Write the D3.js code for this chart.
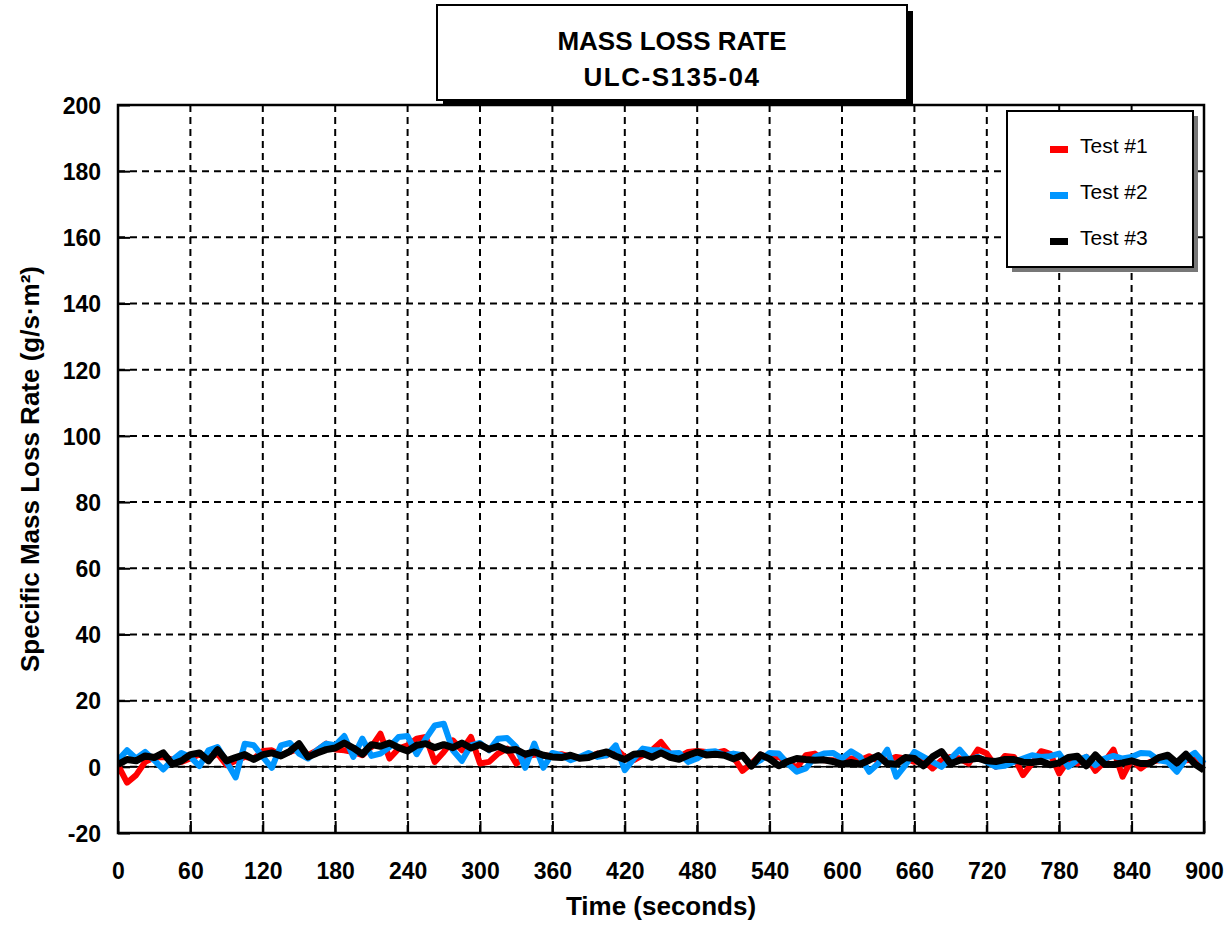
<!DOCTYPE html>
<html>
<head>
<meta charset="utf-8">
<script src="https://cdn.jsdelivr.net/npm/d3@7/dist/d3.min.js"></script>
<style>
  html, body { margin: 0; padding: 0; background: #fff; }
  svg { display: block; font-family: "Liberation Sans", Arial, sans-serif; }
</style>
</head>
<body>
<svg id="chart" width="1232" height="926"></svg>
<script>
// Sampled every 7.5 seconds, 0..900 s
const timeStep = 7.5;

const test1 = [
  0.5, -4.8, -2.5, 1.5, 2.8, 3.0, 2.2, 1.5, 2.5, 3.8,
  2.5, 4.0, 0.5, 1.8, 3.0, 2.5, 4.8, 5.0, 3.5, 4.5,
  5.5, 3.5, 5.0, 7.0, 5.2, 5.0, 4.5, 3.5, 6.0, 10.0,
  2.5, 5.5, 6.5, 8.5, 9.0, 1.5, 4.5, 8.0, 5.0, 9.0,
  1.0, 1.5, 4.0, 5.5, 1.0, 3.0, 3.7, 3.5, 3.2, 3.8,
  3.0, 2.6, 3.0, 4.0, 3.5, 5.5, 3.0, 2.0, 3.5, 5.0,
  7.5, 4.0, 3.0, 4.5, 4.8, 4.5, 4.2, 4.8, 3.0, -1.2,
  1.0, 3.7, 2.5, 3.0, 1.5, -0.3, 3.5, 4.0, 2.0, 2.0,
  1.5, 2.5, 2.0, 3.2, 1.8, 2.0, 3.0, 2.5, 1.5, 2.0,
  -0.5, 2.0, 3.0, 2.5, 1.0, 5.2, 4.0, 0.0, 3.3, 3.0,
  -2.5, 1.0, 4.7, 4.0, -2.0, 2.0, 1.0, 3.0, -1.2, 1.5,
  5.2, -3.0, 2.2, -0.5, 1.5, 2.0, 2.5, 1.0, 2.0, 2.2,
  0.5
];

const test2 = [
  2.0, 5.0, 2.5, 4.5, 2.0, -0.8, 2.0, 4.2, 3.0, 0.2,
  5.0, 6.0, 1.5, -3.2, 7.0, 6.5, 3.0, -0.3, 6.5, 7.2,
  4.0, 2.5, 5.0, 7.0, 6.5, 9.3, 3.0, 8.5, 3.3, 4.0,
  6.0, 9.0, 9.3, 3.8, 8.5, 12.5, 13.0, 5.0, 1.8, 6.5,
  7.2, 5.0, 8.5, 8.7, 6.0, -0.3, 7.0, -0.3, 4.2, 3.5,
  2.0, 3.0, 4.2, 3.0, 3.5, 6.5, -1.0, 2.5, 5.5, 5.0,
  5.0, 4.0, 4.2, 1.5, 2.5, 4.5, 4.7, 3.5, 4.0, 3.5,
  0.5, 2.0, 4.2, 4.0, 1.0, -1.5, -0.5, 3.0, 4.0, 4.2,
  2.5, 4.7, 3.0, -1.5, 1.0, 5.2, -3.0, 0.5, 4.5, 3.0,
  1.5, 0.0, 2.5, 5.2, 2.0, 3.0, 1.5, 0.0, 0.3, 1.5,
  2.5, 3.5, 3.0, 3.2, 4.0, 0.0, 2.0, 3.0, 0.5, 2.5,
  3.3, 2.5, 3.0, 4.2, 4.0, 2.0, 1.5, -1.5, 2.5, 4.2,
  1.0
];

const test3 = [
  0.7, 2.2, 1.8, 3.3, 2.8, 4.2, 0.8, 1.8, 3.7, 4.2,
  1.8, 5.2, 1.8, 2.8, 3.7, 2.2, 3.7, 4.2, 3.3, 4.7,
  7.0, 3.0, 4.2, 5.2, 5.7, 7.2, 5.7, 3.8, 6.7, 6.2,
  7.2, 5.8, 4.8, 6.5, 7.0, 5.8, 6.7, 5.8, 7.2, 5.7,
  6.7, 5.3, 6.2, 5.0, 5.2, 3.8, 4.5, 3.5, 3.0, 2.8,
  3.5, 2.6, 2.8, 3.8, 4.5, 3.2, 2.2, 3.8, 4.0, 2.9,
  4.2, 2.9, 2.3, 3.5, 4.5, 3.6, 3.8, 3.5, 2.4, 3.5,
  0.2, 3.6, 2.4, 0.3, 1.6, 2.5, 2.2, 2.0, 2.1, 1.6,
  0.8, 1.3, 0.8, 2.0, 3.4, 1.0, 0.8, 2.8, 2.5, 0.3,
  3.0, 4.6, 0.9, 2.0, 2.2, 2.6, 1.8, 1.6, 2.2, 2.2,
  1.4, 1.3, 1.7, 0.6, 1.2, 2.8, 3.2, 0.3, 3.6, 0.8,
  0.7, 1.2, 1.8, 1.0, 1.0, 2.8, 3.5, 1.2, 3.8, 0.8,
  -1.0
];

const seriesNames = ["Test #1", "Test #2", "Test #3"];
const xTickValues = [0, 60, 120, 180, 240, 300, 360, 420, 480, 540, 600, 660, 720, 780, 840, 900];
const yTickValues = [-20, 0, 20, 40, 60, 80, 100, 120, 140, 160, 180, 200];
const titleLines = ["MASS LOSS RATE", "ULC-S135-04"];

// colours and widths per series (drawing order red, blue, black)
const seriesColors = ["#ff0000", "#0096ff", "#000000"];
const seriesWidths = [6, 6, 7];

const svg = d3.select("#chart");
const plot = { left: 118, right: 1204, top: 105, bottom: 833 };

const x = d3.scaleLinear().domain([0, 900]).range([plot.left, plot.right]);
const y = d3.scaleLinear().domain([-20, 200]).range([plot.bottom, plot.top]);

// dashed grid
const grid = svg.append("g");
grid.selectAll("line.v")
  .data(xTickValues.filter(d => d > 0 && d < 900))
  .join("line")
  .attr("x1", d => x(d)).attr("x2", d => x(d))
  .attr("y1", plot.top).attr("y2", plot.bottom)
  .attr("stroke", "#000").attr("stroke-width", 2)
  .attr("stroke-dasharray", "7,5");
grid.selectAll("line.h")
  .data(yTickValues.filter(d => d > -20 && d < 200))
  .join("line")
  .attr("x1", plot.left).attr("x2", plot.right)
  .attr("y1", d => y(d)).attr("y2", d => y(d))
  .attr("stroke", "#000").attr("stroke-width", 2)
  .attr("stroke-dasharray", "7,5");

// zero line
svg.append("line")
  .attr("x1", plot.left).attr("x2", plot.right)
  .attr("y1", y(0)).attr("y2", y(0))
  .attr("stroke", "#000").attr("stroke-width", 1.5);

// axes with inward ticks; plain hyphen for negatives like the original
const xAxis = d3.axisBottom(x).tickValues(xTickValues).tickSize(-12).tickPadding(30).tickFormat(d => String(d));
const yAxis = d3.axisLeft(y).tickValues(yTickValues).tickSize(-12).tickPadding(17).tickFormat(d => String(d));

const gx = svg.append("g").attr("transform", `translate(0,${plot.bottom})`).call(xAxis);
const gy = svg.append("g").attr("transform", `translate(${plot.left},0)`).call(yAxis);
[gx, gy].forEach(g => {
  g.select(".domain").remove();
  g.selectAll(".tick line").attr("stroke", "#000").attr("stroke-width", 2);
  g.selectAll(".tick text")
    .attr("fill", "#000")
    .style("font-size", "23px")
    .style("font-weight", "bold")
    .style("font-family", "'Liberation Sans', Arial, sans-serif");
});
gy.selectAll(".tick text").attr("dy", "0.36em");

// data lines
svg.append("clipPath").attr("id", "clip")
  .append("rect")
  .attr("x", plot.left).attr("y", plot.top)
  .attr("width", plot.right - plot.left + 6).attr("height", plot.bottom - plot.top);

const line = d3.line()
  .x((d, i) => x(i * timeStep))
  .y(d => y(d));

svg.append("g").attr("clip-path", "url(#clip)")
  .selectAll("path")
  .data([test1, test2, test3])
  .join("path")
  .attr("d", line)
  .attr("fill", "none")
  .attr("stroke", (d, i) => seriesColors[i])
  .attr("stroke-width", (d, i) => seriesWidths[i])
  .attr("stroke-linejoin", "round");

// plot frame
svg.append("rect")
  .attr("x", plot.left).attr("y", plot.top)
  .attr("width", plot.right - plot.left).attr("height", plot.bottom - plot.top)
  .attr("fill", "none").attr("stroke", "#000").attr("stroke-width", 2.5);

// axis titles
svg.append("text")
  .attr("x", (plot.left + plot.right) / 2).attr("y", 915)
  .attr("text-anchor", "middle")
  .style("font-size", "26px").style("font-weight", "bold")
  .text("Time (seconds)");

svg.append("text")
  .attr("transform", `translate(39,${(plot.top + plot.bottom) / 2}) rotate(-90)`)
  .attr("text-anchor", "middle")
  .style("font-size", "26px").style("font-weight", "bold")
  .text("Specific Mass Loss Rate (g/s·m²)");

// title box with drop shadow
const tb = { x: 437, y: 5, w: 470, h: 95 };
svg.append("rect")
  .attr("x", tb.x + 6).attr("y", tb.y + 6).attr("width", tb.w).attr("height", tb.h)
  .attr("fill", "#000");
svg.append("rect")
  .attr("x", tb.x).attr("y", tb.y).attr("width", tb.w).attr("height", tb.h)
  .attr("fill", "#fff").attr("stroke", "#000").attr("stroke-width", 2);
svg.selectAll("text.title")
  .data(titleLines)
  .join("text")
  .attr("class", "title")
  .attr("x", tb.x + tb.w / 2)
  .attr("y", (d, i) => 50 + i * 36)
  .attr("text-anchor", "middle")
  .style("font-size", "26px").style("font-weight", "bold")
  .style("letter-spacing", (d, i) => i === 1 ? "1.5px" : "0px")
  .text(d => d);

// legend box with grey shadow
const lb = { x: 1007, y: 111, w: 186, h: 156 };
svg.append("rect")
  .attr("x", lb.x + 5).attr("y", lb.y + 5).attr("width", lb.w).attr("height", lb.h)
  .attr("fill", "#777");
svg.append("rect")
  .attr("x", lb.x).attr("y", lb.y).attr("width", lb.w).attr("height", lb.h)
  .attr("fill", "#fff").attr("stroke", "#000").attr("stroke-width", 2);

const legendItem = svg.selectAll("g.legend")
  .data(seriesNames)
  .join("g")
  .attr("class", "legend")
  .attr("transform", (d, i) => `translate(${lb.x + 43},${lb.y + 35 + i * 46})`);
legendItem.append("rect")
  .attr("x", 0).attr("y", 0).attr("width", 18).attr("height", 7)
  .attr("fill", (d, i) => seriesColors[i]);
legendItem.append("text")
  .attr("x", 30).attr("y", 7)
  .style("font-size", "21px")
  .text(d => d);
</script>
</body>
</html>
